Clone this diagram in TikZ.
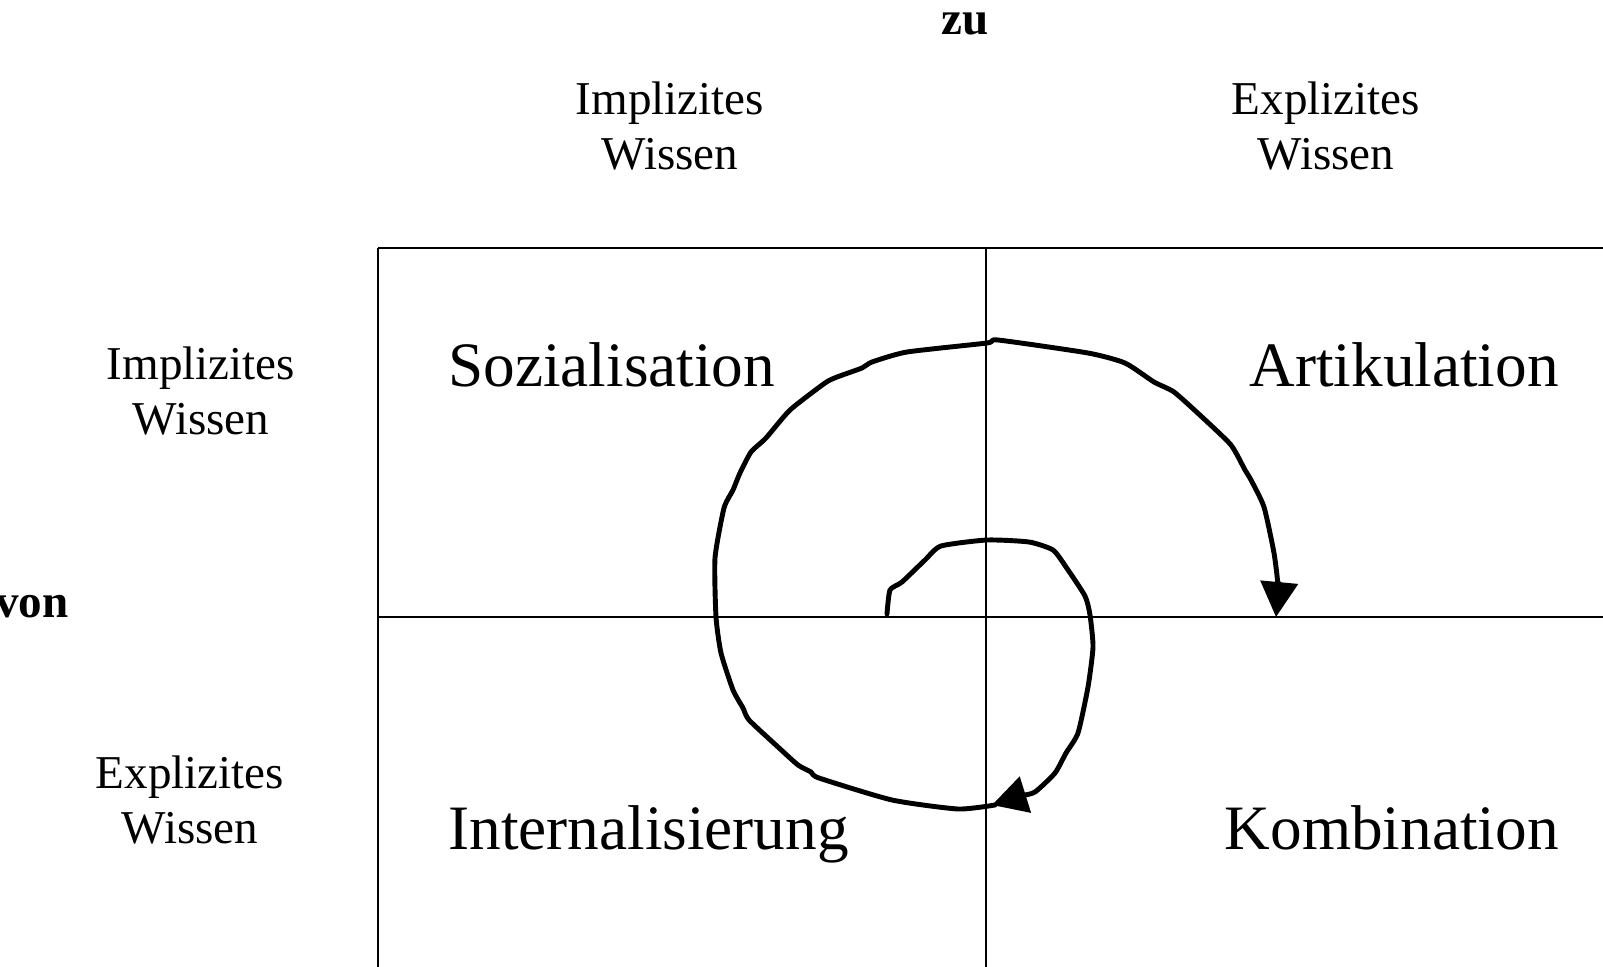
\documentclass[tikz,border=0pt]{standalone}
\usepackage{fontspec}
\setmainfont{Liberation Serif}
\usetikzlibrary{arrows.meta}
\tikzset{
  grid/.style={line width=0.9pt},
  lbl/.style={align=center, inner sep=0pt, anchor=north, font=\fontsize{26.8}{31.8}\selectfont},
  axis/.style={inner sep=0pt, anchor=base, font=\fontsize{26.8}{31.8}\selectfont\bfseries},
  field/.style={inner sep=0pt, font=\fontsize{36}{40}\selectfont},
  spiral/.style={line width=2.8pt, line join=round, line cap=round, -{Triangle[length=0.7cm,width=0.74cm]}}
}
\begin{document}
\begin{tikzpicture}[x=0.02cm, y=-0.02cm]
    \useasboundingbox (0,0) rectangle (1603,967);
    \coordinate (tl) at (378,248);
    \coordinate (tm) at (986,248);
    \coordinate (tr) at (1603,248);
    \coordinate (ml) at (378,617);
    \coordinate (mr) at (1603,617);
    \coordinate (bl) at (378,967);
    \coordinate (bm) at (986,967);
    \draw[grid] (tl) -- (tr) (ml) -- (mr) (tl) -- (bl) (tm) -- (bm);
    \node[axis] (zu) at (965,34) {zu};
    \node[axis] (von) at (32,617) {von};
    \node[lbl] (zuImpl) at (670,81) {Implizites\\Wissen};
    \node[lbl] (zuExpl) at (1326,81) {Explizites\\Wissen};
    \node[lbl] (vonImpl) at (201,346) {Implizites\\Wissen};
    \node[lbl] (vonExpl) at (190,755) {Explizites\\Wissen};
    \node[field, anchor=base west] (soz) at (448,386) {Sozialisation};
    \node[field, anchor=base east] (art) at (1559,386) {Artikulation};
    \node[field, anchor=base west] (int) at (448,849) {Internalisierung};
    \node[field, anchor=base east] (kom) at (1559,849) {Kombination};
    \draw[spiral] plot[smooth, tension=0.35] coordinates {(887,614) (890,590) (902,582) (925,560) (941,546) (987,540) (1029,542) (1053,550) (1066,567) (1085,596) (1090,615) (1093,647) (1088,687) (1078,733) (1066,753) (1055,773) (1035,792) (1021,796) (992,805)};
    \draw[spiral] plot[smooth, tension=0.35] coordinates {(995,805) (958,809) (892,800) (819,778) (811,772) (798,765) (778,747) (749,720) (743,708) (733,690) (721,653) (716,617) (715,558) (724,508) (733,490) (740,473) (751,452) (766,438) (790,410) (825,383) (837,377) (862,368) (872,362) (907,352) (987,343) (998,340) (1088,353) (1125,363) (1154,382) (1174,392) (1202,417) (1231,445) (1245,470) (1251,480) (1264,507) (1274,553) (1278,587) (1276,617)};
\end{tikzpicture}
\end{document}
